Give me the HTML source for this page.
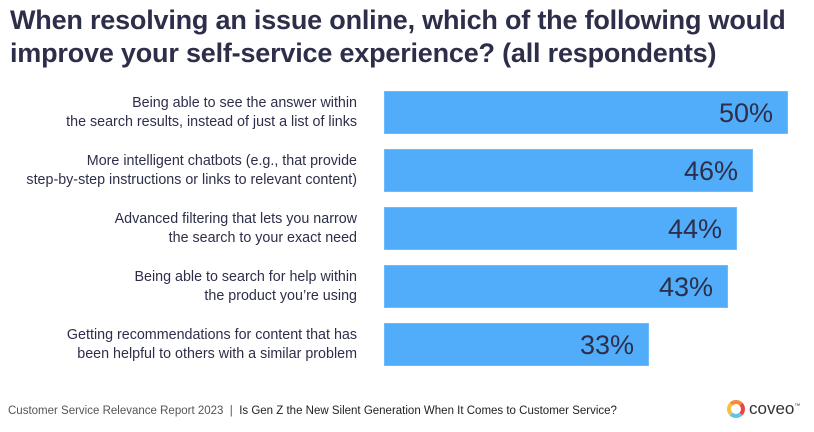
<!DOCTYPE html>
<html><head><style>
body{margin:0;width:814px;height:432px;background:#fff;font-family:"Liberation Sans",sans-serif;color:#2d2f4a;position:relative;overflow:hidden}
h1{position:absolute;left:10px;top:4px;margin:0;font-size:27px;line-height:33px;font-weight:bold;color:#2d2f4a;letter-spacing:-0.2px}
.bar{position:absolute;left:384px;height:43px;background:#51acfa;border:1px solid #6cbcfb;box-sizing:border-box}
.bar span{position:absolute;right:14px;top:6px;font-size:27px;color:#2d2f4a}
.lab{position:absolute;right:457px;text-align:right;font-size:14.3px;line-height:19px;color:#2d2f4a;white-space:nowrap}
.foot{position:absolute;left:8px;top:405px;font-size:11.5px;color:#555}
.foot b{color:#222;font-weight:normal}
</style></head><body>
<h1>When resolving an issue online, which of the following would<br>improve your self-service experience? (all respondents)</h1>
<div class="lab" style="top:94px">Being able to see the answer within<br>the search results, instead of just a list of links</div>
<div class="bar" style="top:91px;width:404px"><span>50%</span></div>
<div class="lab" style="top:152px">More intelligent chatbots (e.g., that provide<br>step-by-step instructions or links to relevant content)</div>
<div class="bar" style="top:149px;width:369px"><span>46%</span></div>
<div class="lab" style="top:210px">Advanced filtering that lets you narrow<br>the search to your exact need</div>
<div class="bar" style="top:207px;width:353px"><span>44%</span></div>
<div class="lab" style="top:268px">Being able to search for help within<br>the product you’re using</div>
<div class="bar" style="top:265px;width:344px"><span>43%</span></div>
<div class="lab" style="top:326px">Getting recommendations for content that has<br>been helpful to others with a similar problem</div>
<div class="bar" style="top:323px;width:265px"><span>33%</span></div>
<div class="foot">Customer Service Relevance Report 2023 &nbsp;|&nbsp; <b>Is Gen Z the New Silent Generation When It Comes to Customer Service?</b></div>
<div style="position:absolute;left:727px;top:400px;width:18px;height:18px;border-radius:50%;border:4px solid #f58b3c;border-right-color:#e9463f;border-bottom-color:#5bc6e8;border-left-color:#f5c33b;box-sizing:border-box"></div>
<div style="position:absolute;left:749px;top:399px;font-size:17px;color:#333">coveo<sup style="font-size:6px">™</sup></div>
</body></html>
